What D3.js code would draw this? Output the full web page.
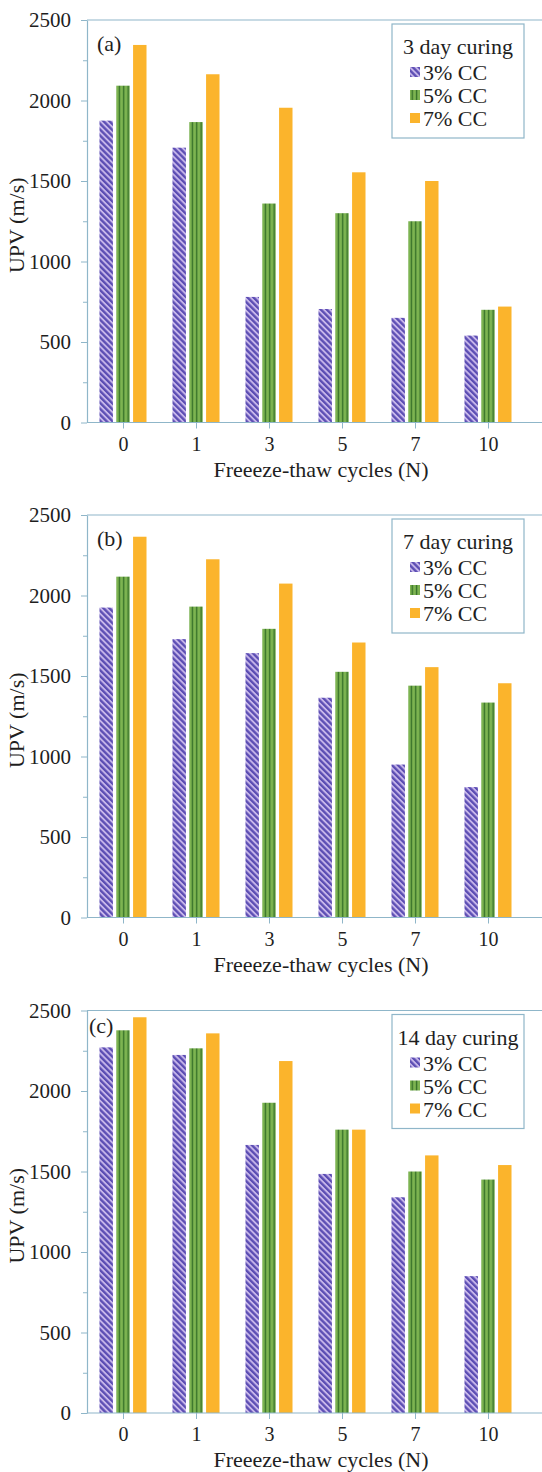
<!DOCTYPE html>
<html>
<head>
<meta charset="utf-8">
<script src="https://cdn.jsdelivr.net/npm/d3@7"></script>
<style>
  body { margin: 0; background: #fff; }
  svg, svg text { font-family: "Liberation Serif", "Times New Roman", serif; }
</style>
</head>
<body>
<svg id="chart" width="542" height="1472"></svg>
<script>
// categories and labels
const cycles = ["0", "1", "3", "5", "7", "10"];
const mixes = ["3% CC", "5% CC", "7% CC"];
const curingTitles = ["3 day curing", "7 day curing", "14 day curing"];
const panelTags = ["(a)", "(b)", "(c)"];
const yTicks = [0, 500, 1000, 1500, 2000, 2500];

// UPV values (m/s)
const day3cc3 = [1875, 1707, 780, 705, 650, 540];
const day3cc5 = [2092, 1866, 1360, 1300, 1250, 700];
const day3cc7 = [2345, 2163, 1955, 1554, 1500, 720];

const day7cc3 = [1925, 1729, 1642, 1365, 950, 810];
const day7cc5 = [2117, 1931, 1793, 1526, 1440, 1335];
const day7cc7 = [2365, 2225, 2074, 1708, 1555, 1455];

const day14cc3 = [2271, 2224, 1665, 1485, 1340, 850];
const day14cc5 = [2377, 2265, 1927, 1760, 1500, 1450];
const day14cc7 = [2458, 2358, 2186, 1760, 1600, 1540];

const panels = [
  [day3cc3, day3cc5, day3cc7],
  [day7cc3, day7cc5, day7cc7],
  [day14cc3, day14cc5, day14cc7]
];

const AXIS = "#8fb6c9";
const TEXT = "#1e1e1e";
const FONT = "Liberation Serif";
const tops = [20, 515, 1010.5];
const plotH = 402.5;
const left = 87;

const svg = d3.select("#chart");
const defs = svg.append("defs");

// 3% CC: purple diagonal hatch
const p1 = defs.append("pattern").attr("id", "hatch3")
  .attr("patternUnits", "userSpaceOnUse")
  .attr("width", 4.2).attr("height", 4.2)
  .attr("patternTransform", "rotate(-45)");
p1.append("rect").attr("width", 4.2).attr("height", 4.2).attr("fill", "#c7b6ea");
p1.append("rect").attr("width", 2.3).attr("height", 4.2).attr("fill", "#5b4db3");

// 5% CC: green with dark vertical lines
const p2 = defs.append("pattern").attr("id", "hatch5")
  .attr("patternUnits", "userSpaceOnUse")
  .attr("width", 4.4).attr("height", 10);
p2.append("rect").attr("width", 4.4).attr("height", 10).attr("fill", "#7db451");
p2.append("rect").attr("x", 1.6).attr("width", 1.3).attr("height", 10).attr("fill", "#336e27");

const fills = ["url(#hatch3)", "url(#hatch5)", "#fbb42c"];

const x0 = d3.scaleBand()
  .domain(cycles)
  .range([86.5, 524.5])
  .paddingInner(0.356)
  .paddingOuter(0.178);

const x1 = d3.scaleBand()
  .domain(mixes)
  .range([0, x0.bandwidth()])
  .paddingInner(0.2);

const xc = d3.scalePoint()
  .domain(cycles)
  .range([x0(cycles[0]) + x0.bandwidth() / 2, x0(cycles[cycles.length - 1]) + x0.bandwidth() / 2]);

const styleText = sel => sel
  .style("font-family", FONT)
  .style("font-size", "21px")
  .attr("fill", TEXT);

panels.forEach((rows, pi) => {
  const top = tops[pi];
  const bottom = top + plotH;

  const y = d3.scaleLinear()
    .domain([0, 2500])
    .range([bottom, top]);

  const g = svg.append("g");

  // top edge of the plot area
  g.append("line")
    .attr("x1", left).attr("x2", 542)
    .attr("y1", top).attr("y2", top)
    .attr("stroke", AXIS).attr("stroke-width", 1.2);

  // minor ticks
  g.append("g")
    .attr("transform", `translate(${left},0)`)
    .call(d3.axisLeft(y).tickValues(d3.range(250, 2500, 500)).tickSize(4).tickFormat(""))
    .call(a => a.select(".domain").remove())
    .call(a => a.selectAll("line").attr("stroke", AXIS));

  // y axis
  g.append("g")
    .attr("transform", `translate(${left},0)`)
    .call(d3.axisLeft(y).tickValues(yTicks).tickFormat(d3.format("d"))
      .tickSize(6).tickSizeOuter(0).tickPadding(10))
    .call(a => a.select(".domain").attr("stroke", AXIS).attr("stroke-width", 1.2))
    .call(a => a.selectAll("line").attr("stroke", AXIS))
    .call(a => a.selectAll("text").call(styleText));

  // bars
  const grp = g.append("g").selectAll("g")
    .data(cycles)
    .join("g")
    .attr("transform", d => `translate(${x0(d)},0)`);

  grp.selectAll("rect")
    .data((c, ci) => mixes.map((m, mi) => ({ mix: m, mi: mi, value: rows[mi][ci] })))
    .join("rect")
    .attr("x", d => x1(d.mix))
    .attr("y", d => y(d.value))
    .attr("width", x1.bandwidth())
    .attr("height", d => y(0) - y(d.value))
    .attr("fill", d => fills[d.mi]);

  // x axis
  g.append("g")
    .attr("transform", `translate(0,${bottom})`)
    .call(d3.axisBottom(xc).tickSize(6).tickSizeOuter(0).tickPadding(8))
    .call(a => a.select(".domain").remove())
    .call(a => a.selectAll("line").attr("stroke", AXIS))
    .call(a => a.selectAll("text").call(styleText).style("font-size", "20px"));

  g.append("line")
    .attr("x1", left).attr("x2", 542)
    .attr("y1", bottom).attr("y2", bottom)
    .attr("stroke", AXIS).attr("stroke-width", 1.2);

  // axis titles
  g.append("text")
    .attr("x", 321).attr("y", bottom + 54)
    .attr("text-anchor", "middle")
    .call(styleText).style("font-size", "22px")
    .text("Freeeze-thaw cycles (N)");

  g.append("text")
    .attr("transform", `translate(24,${(top + bottom) / 2 + 4}) rotate(-90)`)
    .attr("text-anchor", "middle")
    .call(styleText).style("font-size", "22px")
    .text("UPV (m/s)");

  // panel tag
  g.append("text")
    .attr("x", pi === 2 ? 89 : 97).attr("y", top + (pi === 2 ? 22 : 31))
    .call(styleText).style("font-size", "22px")
    .text(panelTags[pi]);

  // legend
  const lg = g.append("g").attr("transform", `translate(392,${top + 4})`);
  lg.append("rect")
    .attr("width", 132).attr("height", 114)
    .attr("fill", "#fff").attr("stroke", AXIS).attr("stroke-width", 1.2);
  lg.append("text")
    .attr("x", 66).attr("y", 30)
    .attr("text-anchor", "middle")
    .call(styleText).style("font-size", "22px")
    .text(curingTitles[pi]);
  const items = lg.selectAll("g.item")
    .data(mixes)
    .join("g")
    .attr("class", "item")
    .attr("transform", (d, i) => `translate(18,${48 + i * 23})`);
  items.append("rect")
    .attr("x", 0).attr("y", -5)
    .attr("width", 10).attr("height", 10)
    .attr("fill", (d, i) => fills[i]);
  items.append("text")
    .attr("x", 13).attr("y", 8)
    .call(styleText).style("font-size", "22px")
    .text(d => d);
});
</script>
</body>
</html>
